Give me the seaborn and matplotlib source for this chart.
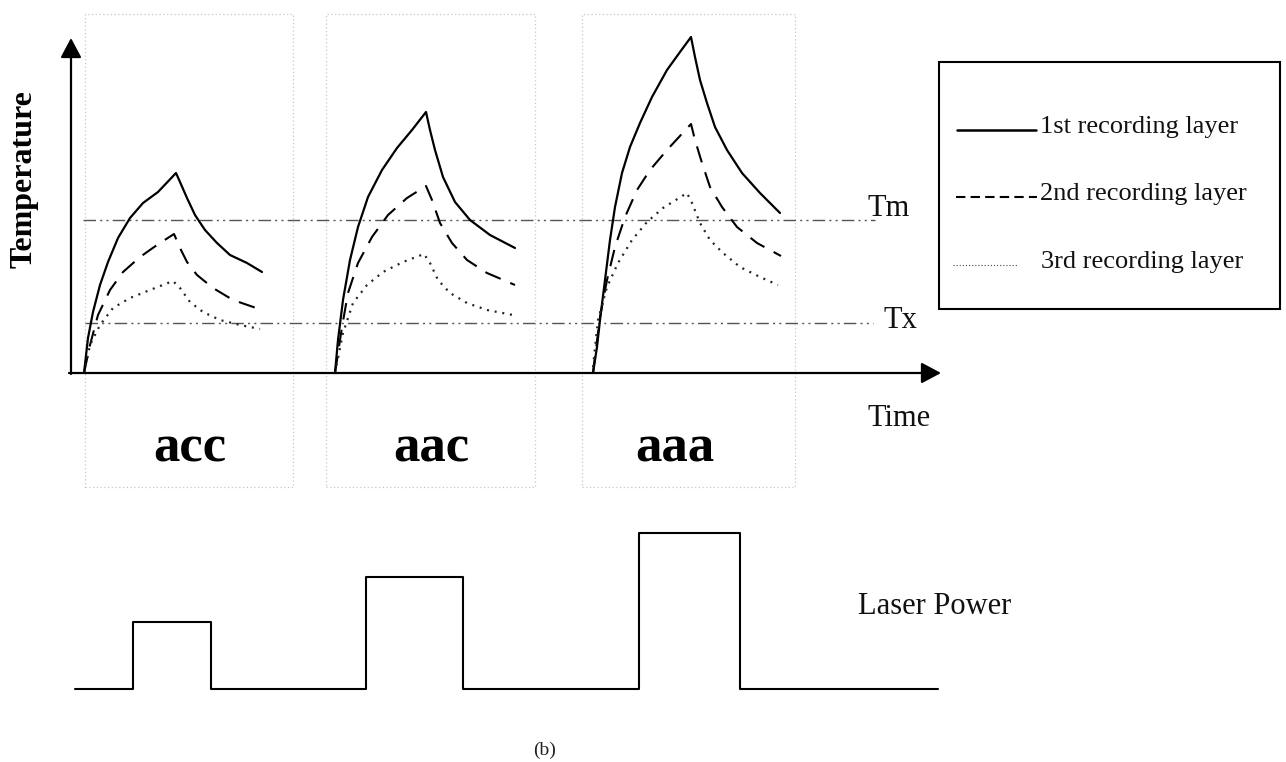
import matplotlib
matplotlib.use("Agg")
import matplotlib.pyplot as plt
import seaborn as sns
import pandas as pd
from matplotlib.patches import Rectangle

# ---------------- data (time, temperature) ----------------
groups = ["acc", "aac", "aaa"]
layers = ["1st recording layer", "2nd recording layer", "3rd recording layer"]

acc_1st = [(14, 0), (18, 35), (23, 61), (30, 88), (38, 111), (48, 135), (60, 155), (73, 170), (88, 181), (106, 200),
           (110, 191), (117, 175), (125, 158), (135, 143), (147, 130), (160, 118), (177, 110), (192, 101)]
acc_2nd = [(14, 0), (20, 28), (28, 58), (40, 83), (53, 101), (70, 116), (87, 128), (104, 139),
           (110, 125), (117, 111), (127, 98), (143, 85), (163, 73), (192, 63)]
acc_3rd = [(14, 0), (20, 28), (30, 48), (43, 65), (60, 75), (80, 83), (103, 92),
           (110, 85), (120, 71), (133, 61), (150, 53), (170, 48), (190, 44)]

aac_1st = [(265, 0), (268, 33), (273, 73), (280, 113), (288, 146), (298, 176), (312, 203), (327, 225), (342, 243),
           (356, 261), (360, 243), (365, 223), (373, 196), (385, 171), (400, 153), (420, 138), (445, 125)]
aac_2nd = [(265, 0), (272, 46), (278, 80), (288, 110), (302, 136), (318, 158), (337, 175), (356, 187),
           (362, 173), (370, 150), (382, 130), (397, 113), (417, 100), (445, 88)]
aac_3rd = [(265, 0), (273, 40), (283, 70), (297, 88), (313, 101), (333, 111), (354, 119),
           (360, 110), (368, 93), (380, 80), (397, 70), (417, 63), (443, 58)]

aaa_1st = [(523, 0), (527, 26), (530, 53), (535, 93), (540, 133), (545, 166), (552, 200), (560, 226), (570, 250),
           (582, 276), (597, 303), (610, 321), (621, 336),
           (625, 316), (630, 293), (637, 270), (645, 246), (657, 223), (672, 200), (690, 180), (710, 160)]
aaa_2nd = [(523, 0), (530, 56), (537, 93), (545, 126), (555, 156), (567, 183), (580, 203), (597, 223), (621, 249),
           (625, 233), (632, 210), (640, 186), (652, 166), (667, 146), (687, 130), (711, 117)]
aaa_3rd = [(523, 6), (528, 53), (537, 86), (548, 110), (562, 133), (577, 151), (593, 165), (617, 180),
           (622, 170), (630, 150), (640, 133), (653, 120), (670, 106), (690, 96), (708, 88)]

Tm = 153
Tx = 50

# laser power pulse train
power_time = [5, 63, 141, 296, 393, 569, 670, 868]
power_level = [0, 67, 0, 112, 0, 156, 0, 0]

curves = {
    ("acc", layers[0]): acc_1st, ("acc", layers[1]): acc_2nd, ("acc", layers[2]): acc_3rd,
    ("aac", layers[0]): aac_1st, ("aac", layers[1]): aac_2nd, ("aac", layers[2]): aac_3rd,
    ("aaa", layers[0]): aaa_1st, ("aaa", layers[1]): aaa_2nd, ("aaa", layers[2]): aaa_3rd,
}
rows = []
for (g, lay), pts in curves.items():
    for t, T in pts:
        rows.append({"group": g, "layer": lay, "time": t, "temp": T})
df = pd.DataFrame(rows)
df_power = pd.DataFrame({"time": power_time, "power": power_level})

# ---------------- styling ----------------
sns.set_theme(style="white")
plt.rcParams["font.family"] = ["Liberation Serif", "DejaVu Serif"]

W, H = 1286, 762
fig = plt.figure(figsize=(W / 100, H / 100), dpi=100)
fig.patch.set_facecolor("white")

ax = fig.add_axes([0, 0, 1, 1])
axp = fig.add_axes([0, 0, 1, 1], sharex=ax)
axp.patch.set_alpha(0)

line_styles = {
    layers[0]: dict(color="black", lw=1.6, ls="-"),
    layers[1]: dict(color="black", lw=1.5, ls=(0, (8, 5))),
    layers[2]: dict(color="#222222", lw=1.6, ls=(0, (0.9, 2.6))),
}

# dotted boxes around each group
box_left = [15, 256, 512]
box_right = [223, 465, 725]
for l, r in zip(box_left, box_right):
    ax.add_patch(Rectangle((l, -114), r - l, 359 + 114, fill=False,
                           edgecolor="#c8c8c8", lw=0.9, ls=(0, (1, 2)), zorder=1))

# Tm / Tx reference lines (dash-dot-dot)
for lvl, x0, x1 in [(Tm, 13, 805), (Tx, 15, 803)]:
    ln, = ax.plot([x0, x1], [lvl, lvl], color="#555555", lw=1.0, zorder=2)
    ln.set_linestyle((0, (9, 3, 1.5, 3, 1.5, 3)))

# temperature curves
for g in groups:
    for lay in layers:
        sub = df[(df.group == g) & (df.layer == lay)]
        n_before = len(ax.lines)
        sns.lineplot(data=sub, x="time", y="temp", ax=ax, sort=False, estimator=None,
                     legend=False, zorder=3, color=line_styles[lay]["color"])
        for ln in ax.lines[n_before:]:
            ln.set_linewidth(line_styles[lay]["lw"])
            ln.set_linestyle(line_styles[lay]["ls"])
            ln.set_solid_joinstyle("round")
            ln.set_dash_joinstyle("round")

# axes arrows
arrow = dict(arrowstyle="-|>,head_length=0.6,head_width=0.32", color="black", lw=1.6,
             shrinkA=0, shrinkB=0, mutation_scale=20)
ax.annotate("", xy=(1, 335), xytext=(1, -1), arrowprops=arrow, zorder=4)
ax.annotate("", xy=(871, 0), xytext=(-1, 0), arrowprops=arrow, zorder=4)

# laser power
sns.lineplot(data=df_power, x="time", y="power", ax=axp, drawstyle="steps-post",
             color="black", estimator=None, sort=False, legend=False)
axp.lines[-1].set_linewidth(1.5)

ax.set_xlim(-70, W - 70)
ax.set_ylim(373 - H, 373)
axp.set_ylim(689 - H, 689)
axp.axis("off")
ax.axis("off")

# labels
ax.text(-46, 194, "Temperature", rotation=90, ha="center", va="center",
        fontsize=23, fontweight="bold", color="black")
ax.text(798, -45, "Time", ha="left", va="center", fontsize=22, color="#111111")
ax.text(798, 164, "Tm", ha="left", va="center", fontsize=22, color="#111111")
ax.text(813, 53, "Tx", ha="left", va="center", fontsize=22, color="#111111")

group_centers = [120, 361, 605]
for g, c in zip(groups, group_centers):
    ax.text(c, -75, g, ha="center", va="center", fontsize=38, fontweight="bold", color="black")

axp.text(788, 83, "Laser Power", ha="left", va="center", fontsize=22, color="#111111")
ax.text(475, -377, "(b)", ha="center", va="center", fontsize=14, color="#222222")

# legend box drawn like the original
ax.add_patch(Rectangle((869, 64), 341, 247, fill=False, edgecolor="black", lw=1.5, zorder=4))
leg_rows = [(layers[0], 243, 887, 966, 1.8, "-", "black"),
            (layers[1], 176, 886, 967, 1.5, (0, (4.5, 2.5)), "black"),
            (layers[2], 108, 883, 948, 0.8, (0, (1, 1.8)), "#444444")]
for lab, yy, x0, x1, lw, ls, col in leg_rows:
    ln, = ax.plot([x0, x1], [yy, yy], color=col, lw=lw, zorder=4)
    ln.set_linestyle(ls)
    ax.text(970 if lab != layers[2] else 971, yy + 3, lab, ha="left", va="center",
            fontsize=19, color="#111111")

fig.savefig("out.png", dpi=100, facecolor="white")
